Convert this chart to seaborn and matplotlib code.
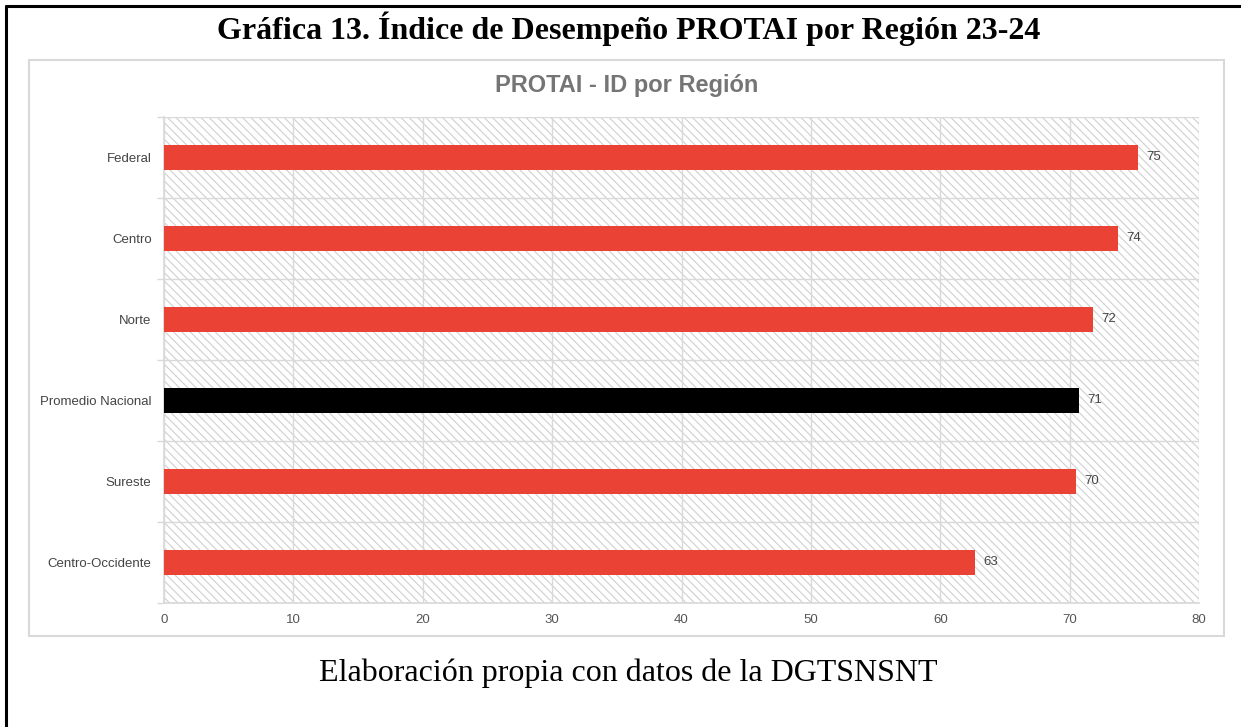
import matplotlib
matplotlib.use('Agg')
import matplotlib.pyplot as plt
import seaborn as sns
import pandas as pd
from matplotlib.patches import Rectangle
from matplotlib.lines import Line2D
from matplotlib.ticker import MultipleLocator, FixedLocator

# Datos
regiones = ['Federal', 'Centro', 'Norte', 'Promedio Nacional', 'Sureste', 'Centro-Occidente']
valores = [75.3, 73.7, 71.8, 70.75, 70.45, 62.7]
colores = ['#EA4335', '#EA4335', '#EA4335', '#000000', '#EA4335', '#EA4335']

titulo = 'Gráfica 13. Índice de Desempeño PROTAI por Región 23-24'
subtitulo = 'PROTAI - ID por Región'
fuente = 'Elaboración propia con datos de la DGTSNSNT'

df = pd.DataFrame({'region': regiones, 'valor': valores})

sns.set_theme(style='white')
plt.rcParams['font.family'] = ['Liberation Sans', 'DejaVu Sans']
plt.rcParams['hatch.linewidth'] = 0.8
plt.rcParams['hatch.color'] = '#cfcfcf'

fig = plt.figure(figsize=(12.41, 7.27), dpi=100)
ax = fig.add_axes([0.1322, 0.1706, 0.834, 0.6685])

# marco del gráfico
fig.add_artist(Rectangle((0.0234, 0.1252), 0.9629, 0.7923, transform=fig.transFigure,
                         facecolor='none', edgecolor='#d9d9d9', linewidth=1.5))
# borde negro (arriba e izquierda)
fig.add_artist(Line2D([0.0048, 1.0], [0.9917, 0.9917], transform=fig.transFigure, color='black', linewidth=2.2))
fig.add_artist(Line2D([0.0048, 0.0048], [0.0, 0.9917], transform=fig.transFigure, color='black', linewidth=2.2))

# fondo rayado
ax.add_patch(Rectangle((0, 0), 1, 1, transform=ax.transAxes, facecolor='white',
                       edgecolor='#cfcfcf', hatch='\\\\\\\\', linewidth=0, zorder=0))

sns.barplot(data=df, y='region', x='valor', hue='region', palette=colores,
            legend=False, width=0.3, orient='h', ax=ax, zorder=3,
            edgecolor='none', saturation=1)

for cont in ax.containers:
    ax.bar_label(cont, labels=[f'{v:.0f}' for v in cont.datavalues], padding=6,
                 fontsize=9.5, color='#444444')

ax.set_xlim(0, 80)
ax.set_ylim(len(regiones) - 0.5, -0.5)
ax.xaxis.set_major_locator(MultipleLocator(10))
ax.yaxis.set_minor_locator(FixedLocator([i - 0.5 for i in range(len(regiones) + 1)]))
ax.grid(True, axis='x', which='major', color='#d9d9d9', linewidth=1, zorder=1)
ax.grid(True, axis='y', which='minor', color='#d9d9d9', linewidth=1, zorder=1)
ax.set_axisbelow(True)
for s in ax.spines.values():
    s.set_visible(False)
ax.spines['left'].set_visible(True)
ax.spines['left'].set_color('#d9d9d9')
ax.spines['bottom'].set_visible(True)
ax.spines['bottom'].set_color('#d9d9d9')

ax.tick_params(axis='y', which='major', length=0, pad=9, labelsize=9.5, labelcolor='#444444')
ax.tick_params(axis='y', which='minor', length=5, color='#d9d9d9', left=True)
ax.tick_params(axis='x', which='major', length=0, pad=8, labelsize=9.5, labelcolor='#555555')
ax.set_xlabel('')
ax.set_ylabel('')

fig.text(0.507, 0.961, titulo, ha='center', va='center', fontsize=23, fontweight='bold',
         family=['Liberation Serif', 'DejaVu Serif'], color='black')
fig.text(0.505, 0.883, subtitulo, ha='center', va='center', fontsize=17, fontweight='bold',
         color='#757575')
fig.text(0.506, 0.074, fuente, ha='center', va='center', fontsize=23,
         family=['Liberation Serif', 'DejaVu Serif'], color='black')

fig.savefig('out.png', dpi=100, facecolor='white')
